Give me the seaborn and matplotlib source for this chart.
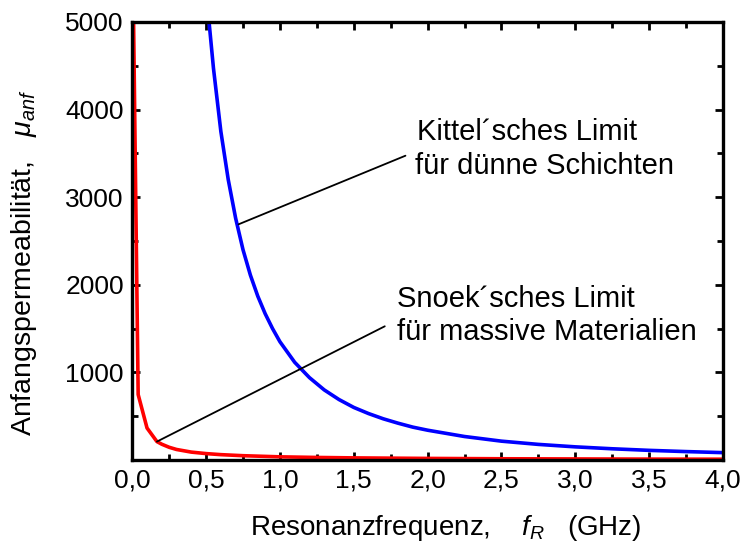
import numpy as np
import pandas as pd
import seaborn as sns
import matplotlib.pyplot as plt
from matplotlib.ticker import MultipleLocator, FuncFormatter

# Snoek limit (bulk materials)
snoek_f = [0.0075, 0.04, 0.1, 0.167, 0.2, 0.25, 0.3, 0.4, 0.5, 0.6, 0.75, 1.0, 1.25,
           1.5, 2.0, 2.5, 3.0, 3.5, 4.0]
snoek_mu = [5200, 747, 365, 210, 180, 145, 120, 90, 73, 61, 49, 36, 29,
            24, 18, 14, 12, 10, 9]

# Kittel limit (thin films)
kittel_f = [0.5, 0.52, 0.55, 0.6, 0.65, 0.7, 0.75, 0.8, 0.85, 0.9, 0.95, 1.0, 1.1, 1.2,
            1.3, 1.4, 1.5, 1.6, 1.7, 1.8, 1.9, 2.0, 2.25, 2.5, 2.75, 3.0, 3.25, 3.5,
            3.75, 4.0]
kittel_mu = [5400, 5000, 4470, 3750, 3200, 2760, 2400, 2110, 1870, 1670, 1500, 1350, 1115, 940,
             800, 690, 600, 530, 470, 420, 375, 340, 268, 215, 178, 150, 128, 110,
             96, 84]

sns.set_style('ticks')
plt.rcParams['font.family'] = ['Liberation Sans', 'DejaVu Sans']
plt.rcParams['text.color'] = 'black'
plt.rcParams['axes.labelcolor'] = 'black'
plt.rcParams['mathtext.fontset'] = 'custom'
plt.rcParams['mathtext.rm'] = 'Liberation Sans'
plt.rcParams['mathtext.it'] = 'Liberation Sans:italic'

fig, ax = plt.subplots(figsize=(7.43, 5.48), dpi=100)
fig.subplots_adjust(left=0.178, right=0.973, top=0.96, bottom=0.1606)

snoek = pd.DataFrame({'f': snoek_f, 'mu': snoek_mu})
kittel = pd.DataFrame({'f': kittel_f, 'mu': kittel_mu})
sns.lineplot(data=snoek, x='f', y='mu', color='#ff0000', lw=2.6, ax=ax, estimator=None, sort=False)
sns.lineplot(data=kittel, x='f', y='mu', color='#0000ff', lw=2.6, ax=ax, estimator=None, sort=False)

ax.set_xlim(0, 4.0)
ax.set_ylim(0, 5000)
ax.xaxis.set_major_locator(MultipleLocator(0.5))
ax.xaxis.set_minor_locator(MultipleLocator(0.25))
ax.yaxis.set_major_locator(MultipleLocator(1000))
ax.yaxis.set_minor_locator(MultipleLocator(500))
ax.xaxis.set_major_formatter(FuncFormatter(lambda v, p: f'{v:.1f}'.replace('.', ',')))
ax.yaxis.set_major_formatter(FuncFormatter(lambda v, p: '' if v == 0 else f'{v:.0f}'))
ax.tick_params(which='both', direction='in', top=True, right=True, width=2, labelsize=19, colors='black')
ax.tick_params(which='major', length=6, pad=6)
ax.tick_params(which='minor', length=4)
for s in ax.spines.values():
    s.set_linewidth(2.4)
    s.set_color('black')

ax.set_xlabel('Resonanzfrequenz,    $f_R$   (GHz)', fontsize=20)
ax.set_ylabel('Anfangspermeabilität,   $\\mu_{anf}$', fontsize=20.5)
ax.xaxis.set_label_coords(0.53, -0.12)
ax.yaxis.set_label_coords(-0.158, 0.45)

# annotations
ax.plot([0.72, 1.85], [2690, 3473], color='black', lw=1.3)
ax.plot([0.167, 1.71], [210, 1526], color='black', lw=1.3)
ax.text(1.927, 3650, 'Kittel´sches Limit', fontsize=21, va='baseline', ha='left')
ax.text(1.915, 3265, 'für dünne Schichten', fontsize=21, va='baseline', ha='left')
ax.text(1.79, 1750, 'Snoek´sches Limit', fontsize=21, va='baseline', ha='left')
ax.text(1.79, 1370, 'für massive Materialien', fontsize=21, va='baseline', ha='left')

fig.savefig('out.png', dpi=100)
